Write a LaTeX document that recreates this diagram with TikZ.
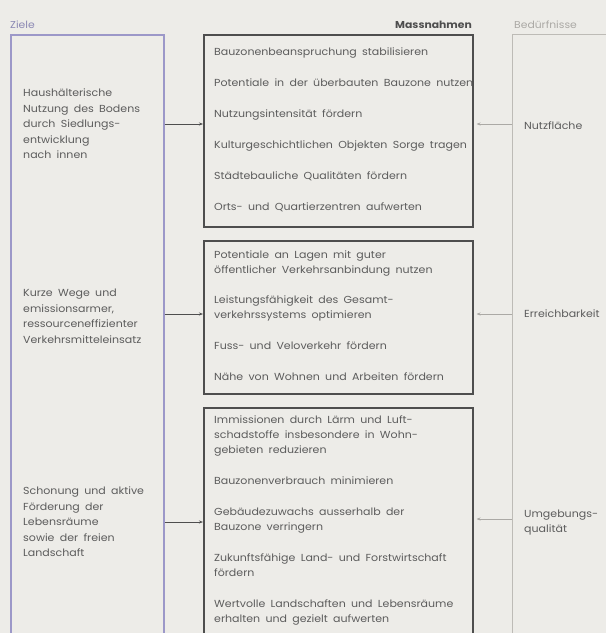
\documentclass[tikz,border=0pt]{standalone}
\usepackage{fontspec}
\setmainfont{Poppins}[FakeStretch=1.08, WordSpace=1.8]
\usetikzlibrary{arrows.meta}
\definecolor{bg}{HTML}{EDECE8}
\definecolor{txtgrey}{HTML}{5C5C5C}
\definecolor{lav}{HTML}{9C98C8}
\definecolor{lavtxt}{HTML}{8C89B4}
\definecolor{dbox}{HTML}{4E4E4E}
\definecolor{rbox}{HTML}{BDBBB6}
\definecolor{rhead}{HTML}{ABA9A5}
\begin{document}
\begin{tikzpicture}[x=1pt,y=-1pt,
  txt/.style={inner sep=0pt, anchor=base west, align=left, text=txtgrey, font=\fontsize{10.2}{15}\selectfont},
  ltxt/.style={txt, font=\fontsize{10.2}{15.5}\selectfont},
  hdr/.style={inner sep=0pt, font=\fontsize{10}{12}\selectfont},
  lbox/.style={draw=lav, line width=1.5pt, anchor=north west, inner sep=0pt, minimum width=153pt, minimum height=640pt},
  mbox/.style={draw=dbox, line width=1.5pt, anchor=north west, inner sep=0pt, minimum width=269pt},
  rboxs/.style={draw=rbox, line width=1.1pt, anchor=north west, inner sep=0pt, minimum width=140pt, minimum height=640pt},
  larr/.style={draw=dbox, line width=0.6pt, -{Stealth[length=4pt,width=3pt]}},
  rarr/.style={draw=rhead, line width=0.6pt, -{Stealth[length=4pt,width=3pt]}}
]
\useasboundingbox (0,0) rectangle (606,633);
\clip (0,0) rectangle (606,633);
\fill[bg] (0,0) rectangle (606,633);

% headers
\node[hdr, anchor=base west, text=lavtxt] (hz) at (10,28) {Ziele};
\node[hdr, anchor=base east, text=dbox, font=\fontsize{10}{12}\selectfont\bfseries] (hm) at (472,28) {Massnahmen};
\node[hdr, anchor=base west, text=rhead] (hb) at (514,28) {Bedürfnisse};

% boxes
\node[lbox] (zl) at (10,34) {};
\node[mbox, minimum height=192pt] (m1) at (203,34) {};
\node[mbox, minimum height=153pt] (m2) at (203,240) {};
\node[mbox, minimum height=240pt] (m3) at (203,407) {};
\node[rboxs] (rb) at (512,34) {};

% left texts (anchor = baseline of last line)
\node[ltxt] (z1) at (23,158.5) {Haushälterische\\Nutzung des Bodens\\durch Siedlungs-\\entwicklung\\nach innen};
\node[ltxt] (z2) at (23,343) {Kurze Wege und\\emissionsarmer,\\ressourceneffizienter\\Verkehrsmitteleinsatz};
\node[ltxt] (z3) at (23,556.5) {Schonung und aktive\\Förderung der\\Lebensräume\\sowie der freien\\Landschaft};

% middle texts box 1
\node[txt] (a1) at (214,55.5) {Bauzonenbeanspruchung stabilisieren};
\node[txt] (a2) at (214,86.5) {Potentiale in der überbauten Bauzone nutzen};
\node[txt] (a3) at (214,117.5) {Nutzungsintensität fördern};
\node[txt] (a4) at (214,148.5) {Kulturgeschichtlichen Objekten Sorge tragen};
\node[txt] (a5) at (214,179.5) {Städtebauliche Qualitäten fördern};
\node[txt] (a6) at (214,210.5) {Orts- und Quartierzentren aufwerten};

% box 2
\node[txt] (b1) at (214,273.5) {Potentiale an Lagen mit guter\\öffentlicher Verkehrsanbindung nutzen};
\node[txt] (b2) at (214,318.5) {Leistungsfähigkeit des Gesamt-\\verkehrssystems optimieren};
\node[txt] (b3) at (214,349.5) {Fuss- und Veloverkehr fördern};
\node[txt] (b4) at (214,380.5) {Nähe von Wohnen und Arbeiten fördern};

% box 3
\node[txt] (c1) at (214,453.5) {Immissionen durch Lärm und Luft-\\schadstoffe insbesondere in Wohn-\\gebieten reduzieren};
\node[txt] (c2) at (214,484.5) {Bauzonenverbrauch minimieren};
\node[txt] (c3) at (214,530.5) {Gebäudezuwachs ausserhalb der\\Bauzone verringern};
\node[txt] (c4) at (214,576.5) {Zukunftsfähige Land- und Forstwirtschaft\\fördern};
\node[txt] (c5) at (214,622.5) {Wertvolle Landschaften und Lebensräume\\erhalten und gezielt aufwerten};

% right texts
\node[txt] (r1) at (524,129.5) {Nutzfläche};
\node[txt] (r2) at (524,317.5) {Erreichbarkeit};
\node[txt] (r3) at (524,532.5) {Umgebungs-\\qualität};

% connector levels
\coordinate (y1) at (0,124);
\coordinate (y2) at (0,314);
\coordinate (y3) at (0,522);
\coordinate (y4) at (0,519);

\draw[larr] (zl.east |- y1) -- (m1.west |- y1);
\draw[larr] (zl.east |- y2) -- (m2.west |- y2);
\draw[larr] (zl.east |- y3) -- (m3.west |- y3);

\draw[rarr] (rb.west |- y1) -- ([xshift=3pt]m1.east |- y1);
\draw[rarr] (rb.west |- y2) -- ([xshift=3pt]m2.east |- y2);
\draw[rarr] (rb.west |- y4) -- ([xshift=3pt]m3.east |- y4);
\end{tikzpicture}
\end{document}
